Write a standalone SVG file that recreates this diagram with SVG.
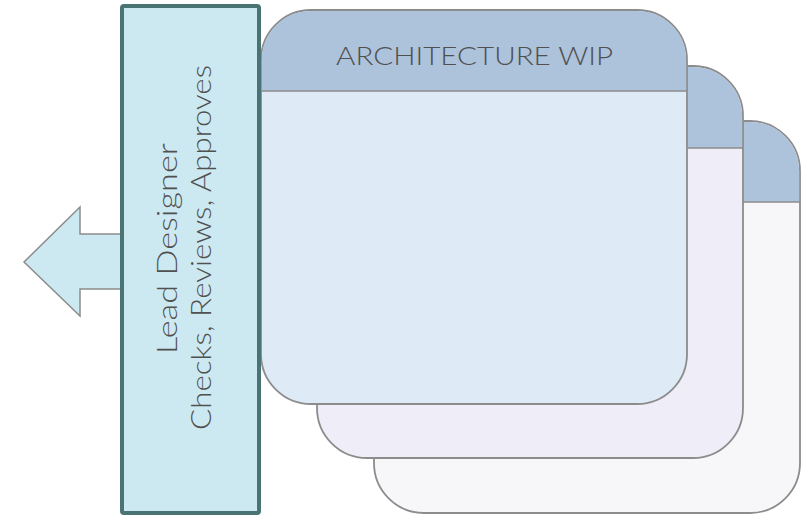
<svg xmlns="http://www.w3.org/2000/svg" width="804" height="516" viewBox="0 0 804 516">
<style>
.card{stroke:#8c8c8c;stroke-width:1.8}
.hdr{fill:#adc2db}
.t{font-family:Lato,"Open Sans","Liberation Sans",sans-serif;fill:#505050;font-weight:300}
</style>
<rect width="804" height="516" fill="#ffffff"/>
<g id="card3">
<rect class="card" x="374" y="121" width="426" height="392" rx="50" fill="#f7f7fa"/>
<path class="hdr" d="M374.9 202 V171 A49 49 0 0 1 424 121.9 H750 A49 49 0 0 1 799.1 171 V202 Z"/>
<line x1="374" y1="202" x2="800" y2="202" stroke="#8c8c8c" stroke-width="1.5"/>
</g>
<g id="card2">
<rect class="card" x="317" y="66" width="426" height="392" rx="50" fill="#efedf7"/>
<path class="hdr" d="M317.9 148 V116 A49 49 0 0 1 367 66.9 H693 A49 49 0 0 1 742.1 116 V148 Z"/>
<line x1="317" y1="148" x2="743" y2="148" stroke="#8c8c8c" stroke-width="1.5"/>
</g>
<g id="card1">
<rect class="card" x="261" y="10" width="426" height="394" rx="50" fill="#deeaf6"/>
<path class="hdr" d="M261.9 91 V60 A49 49 0 0 1 311 10.9 H637 A49 49 0 0 1 686.1 60 V91 Z"/>
<line x1="261" y1="91" x2="687" y2="91" stroke="#8c8c8c" stroke-width="1.5"/>
<text class="t" x="336" y="65" font-size="25.5" textLength="277" lengthAdjust="spacingAndGlyphs">ARCHITECTURE WIP</text>
</g>
<g id="arrow">
<polygon points="122,234 80,234 80,207 24,262 80,316 80,289 122,289" fill="#cce9f1" stroke="#8c8c8c" stroke-width="1.5" stroke-linejoin="miter"/>
</g>
<g id="lead">
<rect x="122" y="6" width="137" height="507" rx="2" fill="#cce9f1" stroke="#4a7474" stroke-width="4"/>
<g transform="translate(183,248) rotate(-90)" class="t" font-size="28">
<text x="-106" y="-6" textLength="211" lengthAdjust="spacingAndGlyphs">Lead Designer</text>
<text x="-182" y="28" textLength="365" lengthAdjust="spacingAndGlyphs">Checks, Reviews, Approves</text>
</g>
</g>
</svg>
